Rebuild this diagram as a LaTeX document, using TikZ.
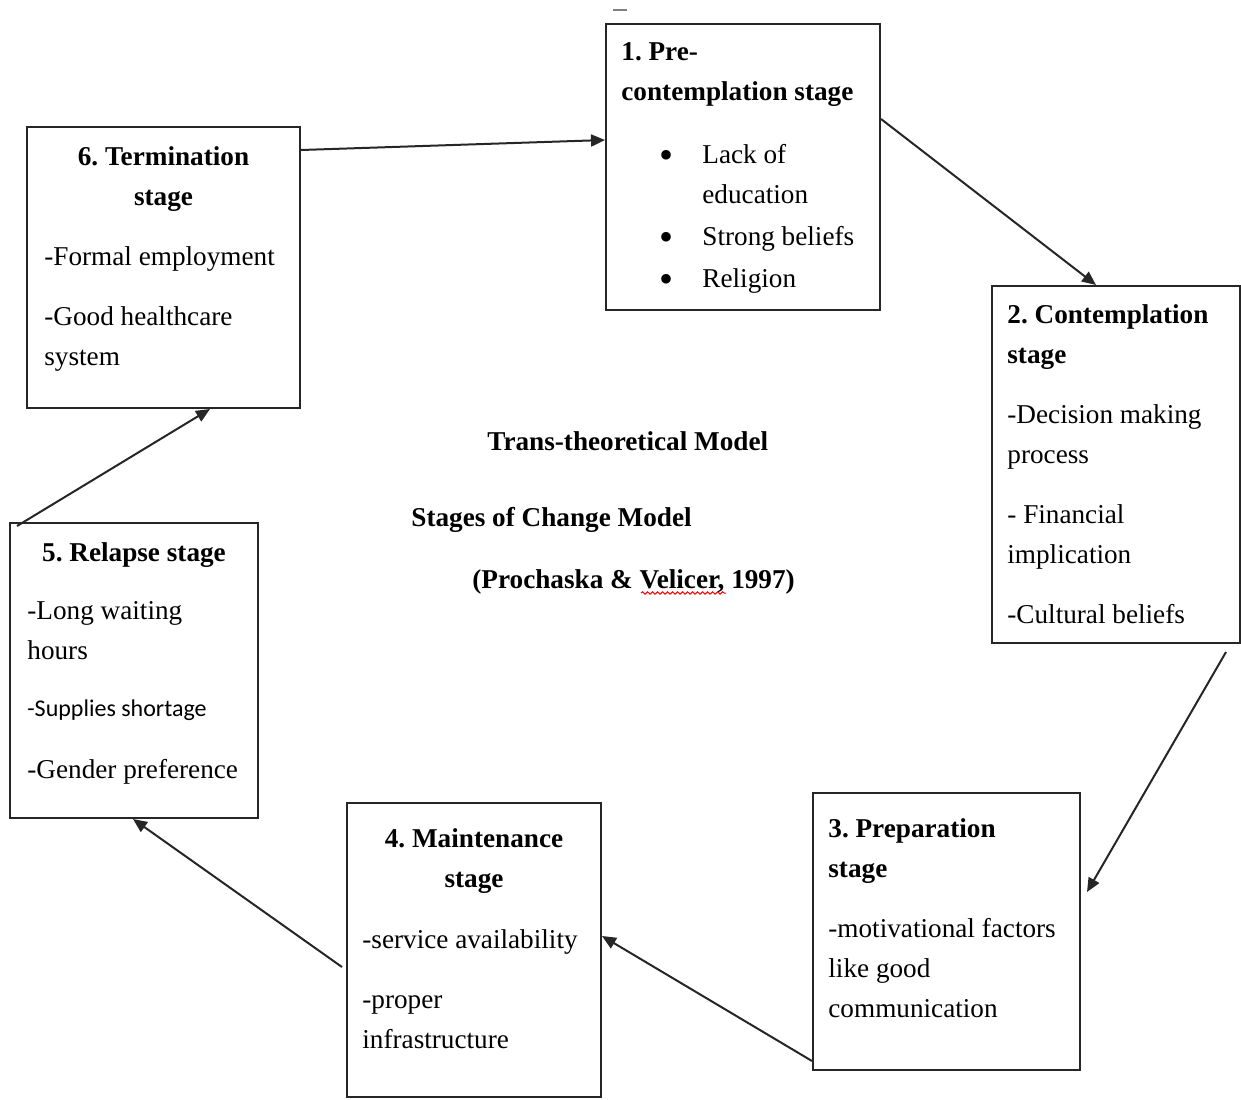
\documentclass[tikz,border=0pt]{standalone}
\usepackage{fontspec}
\setmainfont{Liberation Serif}
\newfontfamily\carlito{Carlito}
\usetikzlibrary{arrows.meta,decorations.pathmorphing}
\frenchspacing
\newcommand\mainsz{\fontsize{13.6pt}{20pt}\selectfont\frenchspacing}
\newcommand\bul{\makebox[40.5pt][l]{\hspace*{19pt}\raisebox{-2.5pt}{\fontsize{20pt}{20pt}\selectfont\textbullet}}}
\newcommand\bulsp{\makebox[40.5pt]{}}
\begin{document}
\begin{tikzpicture}[x=0.5pt,y=-0.5pt,
  box/.style={draw=black!85, line width=1pt, rectangle, inner sep=0pt},
  body/.style={inner sep=0pt, align=left, anchor=north west, font=\mainsz},
  title/.style={inner sep=0pt, align=center, anchor=north, font=\mainsz\bfseries},
  plain/.style={inner sep=0pt, anchor=base west, font=\mainsz\bfseries},
  arr/.style={-{Triangle[length=7pt,width=6pt]}, line width=1pt, draw=black!85}]
\useasboundingbox (0,0) rectangle (1241,1099);

% boxes
\node[box, minimum width=137pt, minimum height=143pt] (b1) at (743,167) {};
\node[box, minimum width=124pt, minimum height=178.5pt] (b2) at (1116,464.5) {};
\node[box, minimum width=133.5pt, minimum height=138.5pt] (b3) at (946.5,931.5) {};
\node[box, minimum width=127pt, minimum height=147pt] (b4) at (474,950) {};
\node[box, minimum width=124pt, minimum height=147.5pt] (b5) at (134,670.5) {};
\node[box, minimum width=136.5pt, minimum height=140.5pt] (b6) at (163.5,267.5) {};

% box texts
\node[body] (t1) at ([xshift=8pt,yshift=-9.5pt]b1.north west)
  {\textbf{1. Pre-}\\ \textbf{contemplation stage}\\[11.5pt]
   \bul Lack of\\ \bulsp education\\[1pt] \bul Strong beliefs\\[1pt] \bul Religion};
\node[body] (t2) at ([xshift=8pt,yshift=-9.5pt]b2.north west)
  {\textbf{2. Contemplation}\\ \textbf{stage}\\[10pt] -Decision making\\ process\\[10pt]
   - Financial\\ implication\\[10pt] -Cultural beliefs};
\node[body] (t3) at ([xshift=8pt,yshift=-13pt]b3.north west)
  {\textbf{3. Preparation}\\ \textbf{stage}\\[10pt] -motivational factors\\ like good\\ communication};
\node[title] (h4) at ([yshift=-13pt]b4.north) {4. Maintenance\\ stage};
\node[body] (t4) at ([xshift=8pt,yshift=-63.5pt]b4.north west)
  {-service availability\\[10pt] -proper\\ infrastructure};
\node[title] (h5) at ([yshift=-10pt]b5.north) {5. Relapse stage};
\node[body] (t5) at ([xshift=9pt,yshift=-39.5pt]b5.north west)
  {-Long waiting\\ hours\\[8.5pt] {\carlito\fontsize{12pt}{20pt}\selectfont -Supplies shortage}\\[11pt] -Gender preference};
\node[title] (h6) at ([yshift=-10pt]b6.north) {6. Termination\\ stage};
\node[body] (t6) at ([xshift=9pt,yshift=-60pt]b6.north west)
  {-Formal employment\\[10pt] -Good healthcare\\ system};

% centre texts
\node[plain] (m1) at (487,450) {Trans-theoretical Model};
\node[plain] (m2) at (411,526) {Stages of Change Model};
\node[plain] (m3) at (472,588) {(Prochaska \& Velicer, 1997)};
\draw[red, line width=0.5pt, decorate, decoration={snake, amplitude=0.6pt, segment length=2.5pt}] (641,593) -- (726,593);
\draw[gray, line width=0.8pt] (613,10) -- (627,10);

% arrows
\draw[arr] ([yshift=-12pt]b6.north east) -- ([yshift=-58.5pt]b1.north west);
\draw[arr] ([yshift=-48pt]b1.north east) -- ([xshift=52.5pt]b2.north west);
\draw[arr] ([xshift=-7.5pt,yshift=-4pt]b2.south east) -- ([xshift=3pt,yshift=-50pt]b3.north east);
\draw[arr] ([yshift=5pt]b3.south west) -- ([yshift=-67pt]b4.north east);
\draw[arr] ([xshift=-2pt,yshift=-82.5pt]b4.north west) -- ([xshift=-0.5pt]b5.south);
\draw[arr] ([xshift=4pt,yshift=-2pt]b5.north west) -- ([xshift=92pt]b6.south west);
\end{tikzpicture}
\end{document}
